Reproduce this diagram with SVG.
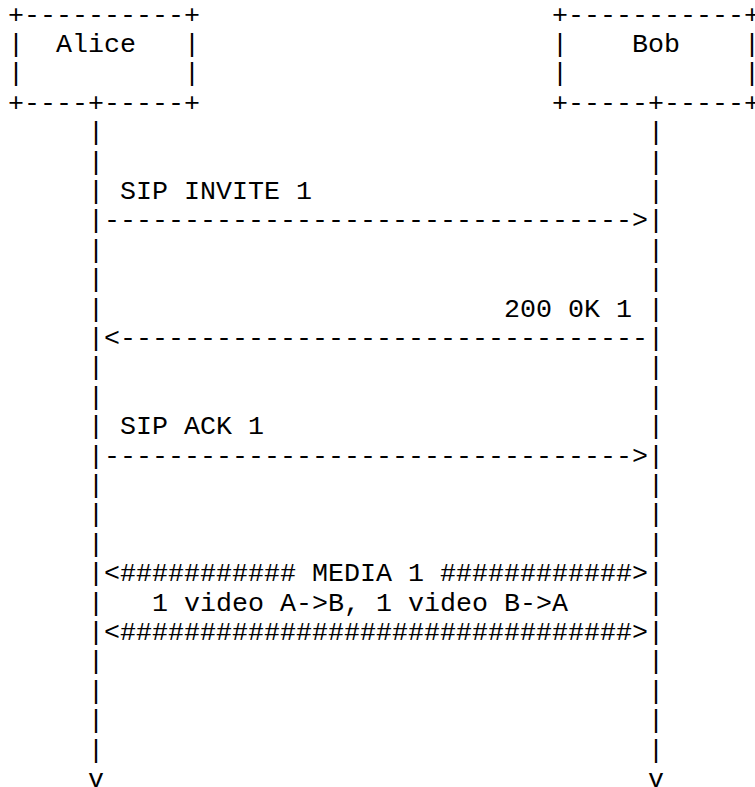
<svg xmlns="http://www.w3.org/2000/svg" width="755" height="787" viewBox="0 0 755 787">
<style>
text{font-family:"Liberation Mono","Courier New",monospace;font-size:26.67px;fill:#000;white-space:pre}
</style>
<rect x="0" y="0" width="755" height="787" fill="#fff"/>
<g id="alice">
<text x="8" y="22.5">+----------+</text>
<text x="8" y="51.9">|  Alice   |</text>
<text x="8" y="81.3">|          |</text>
<text x="8" y="110.7">+----+-----+</text>
</g>
<g id="bob">
<text x="552" y="22.5">+-----------+</text>
<text x="552" y="51.9">|    Bob    |</text>
<text x="552" y="81.3">|           |</text>
<text x="552" y="110.7">+-----+-----+</text>
</g>
<g id="connectors">
<text id="lifeline-alice" x="88 88 88 88 88 88 88 88 88 88 88 88 88 88 88 88 88 88 88 88 88 88 88" y="140.1 169.5 198.9 228.3 257.7 287.1 316.5 345.9 375.3 404.7 434.1 463.5 492.9 522.3 551.7 581.1 610.5 639.9 669.3 698.7 728.1 757.5 786.9">||||||||||||||||||||||v</text>
<text id="lifeline-bob" x="648 648 648 648 648 648 648 648 648 648 648 648 648 648 648 648 648 648 648 648 648 648 648" y="140.1 169.5 198.9 228.3 257.7 287.1 316.5 345.9 375.3 404.7 434.1 463.5 492.9 522.3 551.7 581.1 610.5 639.9 669.3 698.7 728.1 757.5 786.9">||||||||||||||||||||||v</text>
<text id="msg-invite" x="104" y="228.3">---------------------------------&gt;</text>
<text id="msg-ok" x="104" y="345.9">&lt;---------------------------------</text>
<text id="msg-ack" x="104" y="463.5">---------------------------------&gt;</text>
<text id="media-1" x="104" y="581.1">&lt;########### MEDIA 1 ############&gt;</text>
<text id="media-2" x="104" y="639.9">&lt;################################&gt;</text>
</g>
<g id="labels">
<text x="120" y="198.9">SIP INVITE 1</text>
<text x="504" y="316.5">200 0K 1</text>
<text x="120" y="434.1">SIP ACK 1</text>
<text x="152" y="610.5">1 video A-&gt;B, 1 video B-&gt;A</text>
</g>
</svg>
